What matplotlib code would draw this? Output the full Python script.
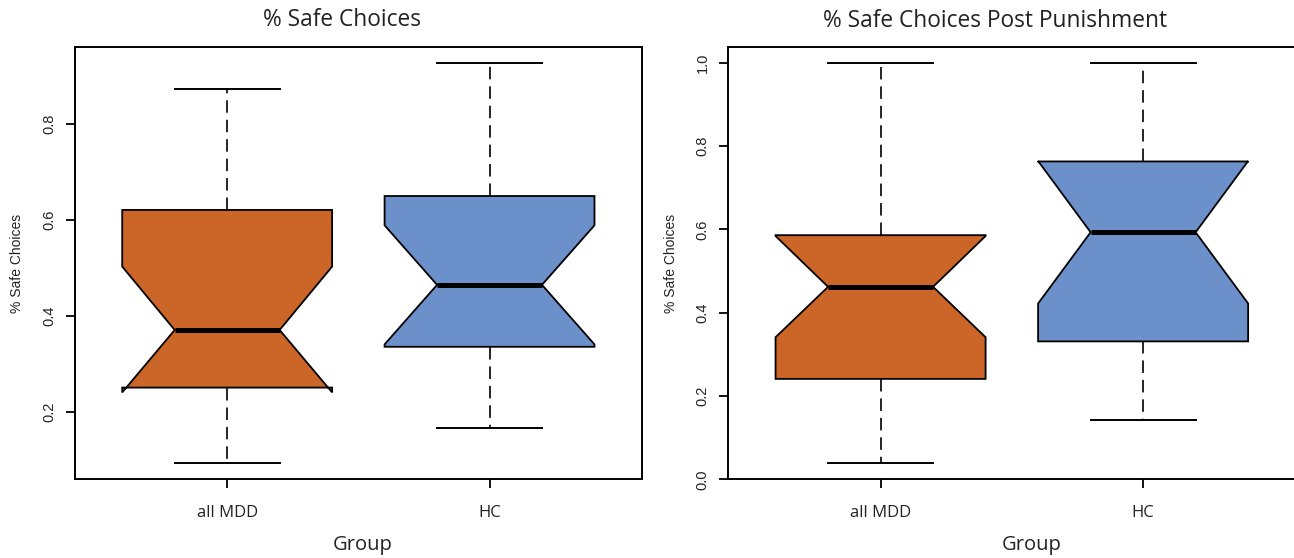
import matplotlib
matplotlib.use('Agg')
import matplotlib.pyplot as plt

# values (R notched boxplots)
groups = ['all MDD', 'HC']

# % Safe Choices
safe_q1 = [0.250, 0.335]
safe_med = [0.370, 0.464]
safe_q3 = [0.620, 0.649]
safe_lo = [0.0925, 0.166]
safe_hi = [0.872, 0.927]
safe_cilo = [0.240, 0.340]
safe_cihi = [0.502, 0.588]

# % Safe Choices Post Punishment
post_q1 = [0.241, 0.331]
post_med = [0.462, 0.593]
post_q3 = [0.586, 0.763]
post_lo = [0.038, 0.143]
post_hi = [1.0, 1.0]
post_cilo = [0.341, 0.422]
post_cihi = [0.584, 0.764]

colors = ['#CB6528', '#6C90CA']
title_font = ['Open Sans', 'DejaVu Sans']
tick_font = ['Liberation Sans', 'DejaVu Sans']

plt.rcParams['lines.scale_dashes'] = False


def make_stats(q1, med, q3, lo, hi, cilo, cihi):
    st = []
    for i in range(len(groups)):
        st.append(dict(q1=q1[i], med=med[i], q3=q3[i], whislo=lo[i], whishi=hi[i],
                       cilo=cilo[i], cihi=cihi[i], fliers=[], label=groups[i]))
    return st


def draw_panel(ax, stats, ylim, yticks):
    bp = ax.bxp(stats, positions=[1, 2], widths=0.8, capwidths=0.4,
                shownotches=True, patch_artist=True, showfliers=False,
                boxprops=dict(linewidth=1.3, edgecolor='black'),
                medianprops=dict(color='black', linewidth=3.6, solid_capstyle='butt'),
                whiskerprops=dict(color='black', linewidth=1.2, linestyle=(0, (9, 5.0))),
                capprops=dict(color='black', linewidth=1.4))
    for b, c in zip(bp['boxes'], colors):
        b.set_facecolor(c)
    ax.set_xlim(0.42, 2.58)
    ax.set_ylim(*ylim)
    ax.set_yticks(yticks)
    ax.set_yticklabels(['%.1f' % t for t in yticks], rotation=90, va='center',
                       family=tick_font, fontsize=10.5, color='#222222')
    ax.set_xticks([1, 2])
    ax.set_xticklabels(groups, family=title_font, fontsize=12, color='#222222')
    ax.tick_params(axis='both', length=6.5, width=1.3)
    ax.tick_params(axis='y', pad=7)
    ax.tick_params(axis='x', pad=12)
    for s in ax.spines.values():
        s.set_linewidth(1.4)


W, H = 1294, 558
fig = plt.figure(figsize=(W / 100, H / 100), dpi=100)
ax1 = fig.add_axes([75 / W, (H - 479.3) / H, 566.7 / W, 432.6 / H])
ax2 = fig.add_axes([728.3 / W, (H - 479.3) / H, 567.1 / W, 432.6 / H])

draw_panel(ax1, make_stats(safe_q1, safe_med, safe_q3, safe_lo, safe_hi, safe_cilo, safe_cihi),
           (0.059, 0.960), [0.2, 0.4, 0.6, 0.8])
draw_panel(ax2, make_stats(post_q1, post_med, post_q3, post_lo, post_hi, post_cilo, post_cihi),
           (-0.0001, 1.0385), [0.0, 0.2, 0.4, 0.6, 0.8, 1.0])

fig.text(342 / W, 1 - 20 / H, '% Safe Choices', ha='center', va='center',
         family=title_font, fontsize=16.4, color='#222222')
fig.text(995 / W, 1 - 21 / H, '% Safe Choices Post Punishment', ha='center', va='center',
         family=title_font, fontsize=16.4, color='#222222')
fig.text(363 / W, 1 - 545 / H, 'Group', ha='center', va='center',
         family=title_font, fontsize=14.5, color='#222222')
fig.text(1032 / W, 1 - 545 / H, 'Group', ha='center', va='center',
         family=title_font, fontsize=14.5, color='#222222')
fig.text(17.5 / W, 1 - 263 / H, '% Safe Choices', ha='center', va='center', rotation=90,
         family=tick_font, fontsize=10, color='#222222')
fig.text(671 / W, 1 - 263 / H, '% Safe Choices', ha='center', va='center', rotation=90,
         family=tick_font, fontsize=10, color='#222222')

fig.savefig('out.png', dpi=100)
